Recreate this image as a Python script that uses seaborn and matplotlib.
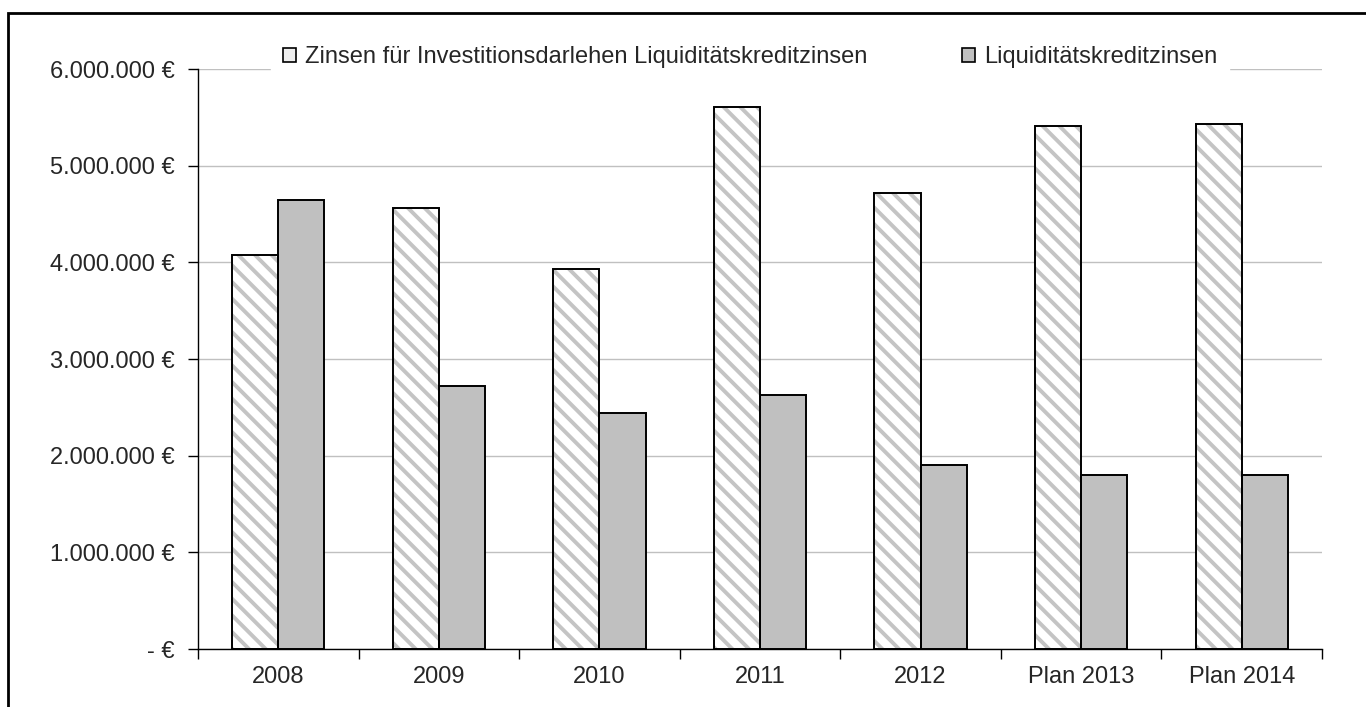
import matplotlib
matplotlib.use("Agg")
import matplotlib.pyplot as plt
import seaborn as sns
import pandas as pd
import numpy as np
from matplotlib.patches import Rectangle, Patch
from matplotlib.ticker import FuncFormatter

years = ["2008", "2009", "2010", "2011", "2012", "Plan 2013", "Plan 2014"]
invest = [4080000, 4560000, 3930000, 5610000, 4720000, 5410000, 5430000]
liquid = [4650000, 2720000, 2440000, 2630000, 1900000, 1800000, 1800000]
series_names = ["Zinsen für Investitionsdarlehen Liquiditätskreditzinsen", "Liquiditätskreditzinsen"]

df = pd.DataFrame({
    "year": years * 2,
    "value": invest + liquid,
    "series": [series_names[0]] * len(years) + [series_names[1]] * len(years),
})

sns.set_style("white")
plt.rcParams["font.family"] = ["Liberation Sans", "DejaVu Sans"]
plt.rcParams["hatch.linewidth"] = 2.8

fig = plt.figure(figsize=(13.66, 7.07), dpi=100)
ax = fig.add_axes([198/1366, 1-649/707, (1322-198)/1366, (649-69)/707])

sns.barplot(data=df, x="year", y="value", hue="series", order=years, hue_order=series_names,
            palette=["white", "#c0c0c0"], edgecolor="black", linewidth=1.4, width=0.575,
            saturation=1, ax=ax, legend=False)

n = len(years)
for p in ax.patches[:n]:
    p.set_facecolor("white")
    p.set_edgecolor("#c4c4c4")
    p.set_hatch("\\\\")
    p.set_linewidth(0)
    ax.add_patch(Rectangle(p.get_xy(), p.get_width(), p.get_height(), fill=False,
                           edgecolor="black", linewidth=1.4, zorder=p.get_zorder() + 0.1))

ax.set_ylim(0, 6000000)
ax.set_xlim(-0.5, n - 0.5)
ax.set_yticks(np.arange(0, 6000001, 1000000))
def fmt(v, pos):
    if v == 0:
        return "- €"
    return f"{int(v):,}".replace(",", ".") + " €"
ax.yaxis.set_major_formatter(FuncFormatter(fmt))
ax.grid(axis="y", color="#c0c0c0", linewidth=1)
ax.set_axisbelow(True)
ax.set_xlabel("")
ax.set_ylabel("")
for s in ["top", "right"]:
    ax.spines[s].set_visible(False)
for s in ["left", "bottom"]:
    ax.spines[s].set_color("black")
    ax.spines[s].set_linewidth(1)

ax.tick_params(axis="y", which="major", direction="out", length=7, width=1, color="black",
               labelsize=17, pad=10, left=True)
ax.tick_params(axis="x", which="major", length=0, labelsize=17, pad=12)
ax.set_xticks(np.arange(-0.5, n, 1.0), minor=True)
ax.tick_params(axis="x", which="minor", direction="out", length=7, width=1, color="black", bottom=True)

handles = [Patch(facecolor="#eeeeee", edgecolor="black", linewidth=1.2),
           Patch(facecolor="#c0c0c0", edgecolor="black", linewidth=1.2)]
leg = fig.legend(handles, series_names, loc="center", bbox_to_anchor=(750/1366, 1-57/707), ncol=2,
                 fontsize=17, frameon=True, facecolor="white", edgecolor="white", framealpha=1,
                 handlelength=0.55, handleheight=0.55, handletextpad=0.4, columnspacing=4.0,
                 borderpad=0.5, fancybox=False)

fig.patches.append(Rectangle((8/1366, -0.1), 1.2, 1.1 - 13/707, transform=fig.transFigure,
                             fill=False, edgecolor="black", linewidth=2))

fig.savefig("out.png", dpi=100)
